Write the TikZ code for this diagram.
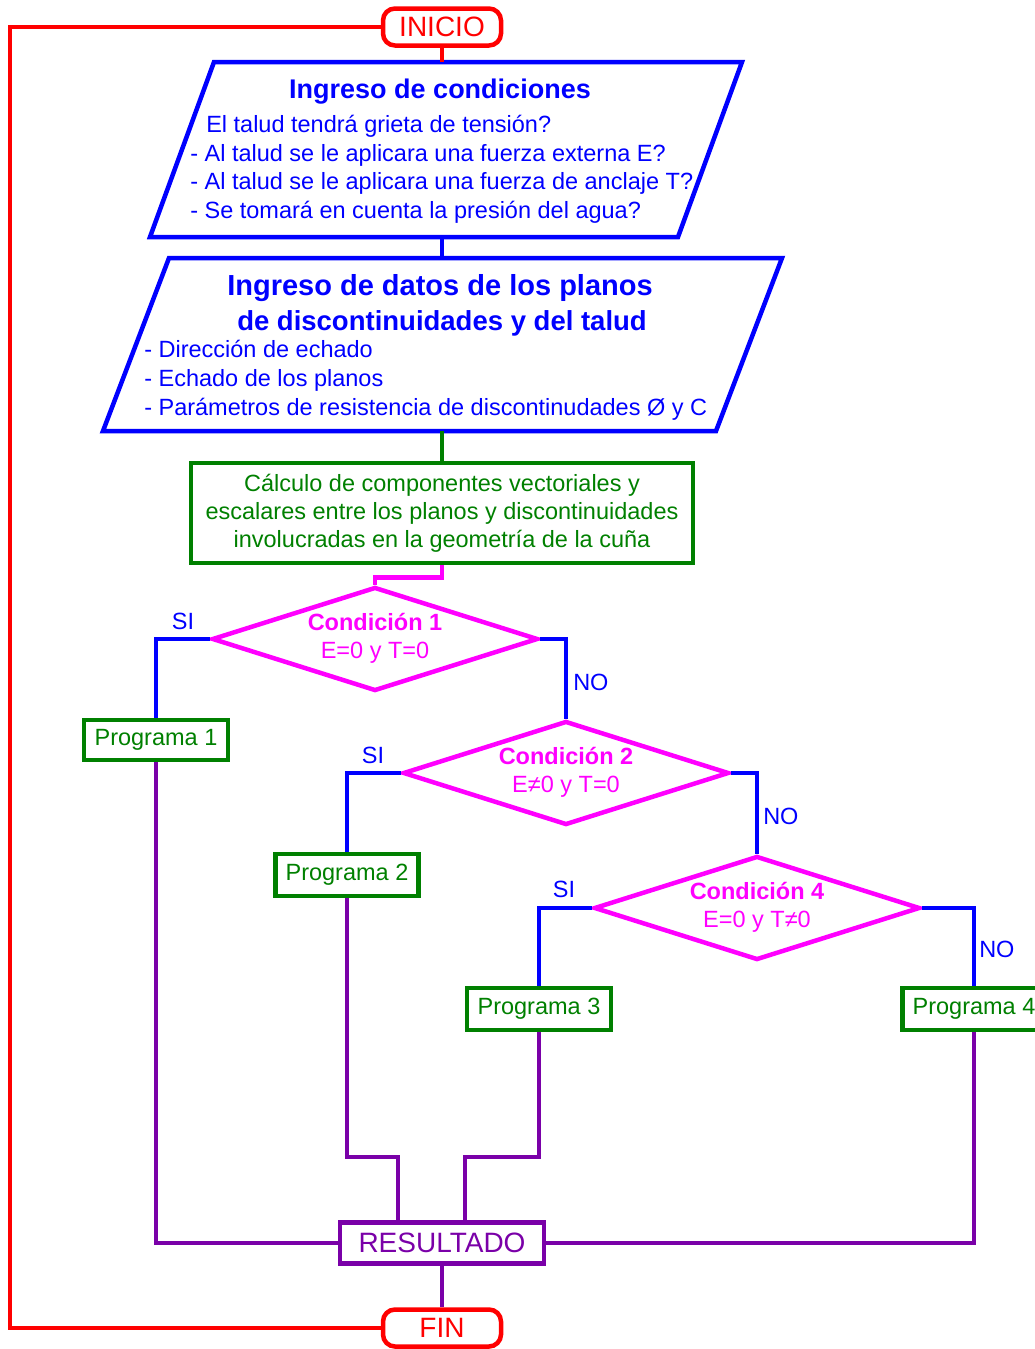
\documentclass[tikz,border=0pt]{standalone}
\usepackage{fontspec}
\setmainfont{Liberation Sans}
\usetikzlibrary{shapes.geometric}
\definecolor{fcred}{RGB}{255,0,0}
\definecolor{fcblue}{RGB}{0,0,255}
\definecolor{fcgreen}{RGB}{0,128,0}
\definecolor{fcmagenta}{RGB}{255,0,255}
\definecolor{fcpurple}{RGB}{122,0,168}
\newcommand{\bodysize}{\fontsize{23.5}{28}\selectfont}
\newcommand{\termsize}{\fontsize{28}{32}\selectfont}
\newcommand{\slantbox}[2]% frame node, slant
{(#1.south west) -- ([xshift=#2]#1.north west) -- (#1.north east) -- ([xshift=-#2]#1.south east) -- cycle
}

\begin{document}
\begin{tikzpicture}[x=1pt,y=-1pt,line width=4.5pt]
\tikzstyle{terminal}=[draw=fcred,text=fcred,font=\termsize,rectangle,rounded corners=12pt,minimum width=118,minimum height=37,inner sep=0pt]
\tikzstyle{frame}=[inner sep=0pt,outer sep=0pt]
\tikzstyle{head}=[text=fcblue,font=\bfseries,anchor=base,inner sep=0pt]
\tikzstyle{item}=[text=fcblue,font=\bodysize,anchor=base west,inner sep=0pt]
\tikzstyle{process}=[draw=fcgreen,text=fcgreen,font=\bodysize,align=center,inner sep=0pt]
\tikzstyle{decision}=[draw=fcmagenta,text=fcmagenta,font=\bodysize,diamond,aspect=3.14,minimum width=326,minimum height=104,inner sep=0pt,align=center]
\tikzstyle{output}=[draw=fcpurple,text=fcpurple,font=\termsize,minimum width=204,minimum height=41,inner sep=0pt]
\tikzstyle{answer}=[text=fcblue,font=\bodysize,inner sep=0pt]

\useasboundingbox (0,0) rectangle (1034,1349);

% start and end
\draw (442,27) node[terminal] (inicio) {INICIO}; % inicio
\draw (442,1328) node[terminal] (fin) {FIN}; % fin
\coordinate (loop) at (10,27);
\draw[fcred] (inicio.west) -- (loop) |- (fin.west);

% first input box
\draw (446,149.5) node[frame,minimum width=592,minimum height=175] (ingreso) {}; % ingreso
\draw[fcblue] \slantbox{ingreso}{64pt};
\draw (440,98) node[head,font=\fontsize{27}{32}\selectfont\bfseries] (ingresot) {Ingreso de condiciones};
\draw (204,132) node[item] (q1) {El talud tendrá grieta de tensión?};
\draw (188,161) node[item] (q2) {- Al talud se le aplicara una fuerza externa E?};
\draw (188,189) node[item] (q3) {- Al talud se le aplicara una fuerza de anclaje T?};
\draw (188,218) node[item] (q4) {- Se tomará en cuenta la presión del agua?};

% second input box
\draw (442.5,344.5) node[frame,minimum width=679,minimum height=173] (datos) {}; % datos
\draw[fcblue] \slantbox{datos}{66pt};
\draw (440,295) node[head,font=\fontsize{29}{32}\selectfont\bfseries] (datost1) {Ingreso de datos de los planos};
\draw (442,330) node[head,font=\fontsize{27.5}{32}\selectfont\bfseries] (datost2) {de discontinuidades y del talud};
\draw (142,357) node[item] (d1) {- Dirección de echado};
\draw (142,386) node[item] (d2) {- Echado de los planos};
\draw (142,415) node[item] (d3) {- Parámetros de resistencia de discontinudades Ø y C};

% calculation
\draw (442,513) node[process,minimum width=502,minimum height=100] (calculo) {Cálculo de componentes vectoriales y\\escalares entre los planos y discontinuidades\\involucradas en la geometría de la cuña}; % calculo

% conditions
\draw (375,639) node[decision] (cond1) {\textbf{Condición 1}\\E=0 y T=0\rule[-6pt]{0pt}{0pt}}; % cond1
\draw (566,773) node[decision] (cond2) {\textbf{Condición 2}\\E≠0 y T=0\rule[-6pt]{0pt}{0pt}}; % cond2
\draw (757,908) node[decision] (cond4) {\textbf{Condición 4}\\E=0 y T≠0\rule[-6pt]{0pt}{0pt}}; % cond4

% programs
\draw (156,740) node[process,minimum width=144,minimum height=40] (prog1) {Programa 1}; % prog1
\draw (347,875) node[process,minimum width=143,minimum height=42] (prog2) {Programa 2}; % prog2
\draw (539,1009) node[process,minimum width=144,minimum height=42] (prog3) {Programa 3}; % prog3
\draw (974,1009) node[process,minimum width=143,minimum height=42] (prog4) {Programa 4}; % prog4
\draw (442,1243) node[output] (result) {RESULTADO}; % result

% answers
\draw (183,621) node[answer] (si1) {SI};
\draw (571,682) node[answer,anchor=west] (no1) {NO};
\draw (373,755) node[answer] (si2) {SI};
\draw (761,816) node[answer,anchor=west] (no2) {NO};
\draw (564,889) node[answer] (si3) {SI};
\draw (977,949) node[answer,anchor=west] (no3) {NO};

% connectors
\draw[fcred] (inicio) -- (inicio |- ingreso.north);
\draw[fcblue] (calculo |- ingreso.south) -- (calculo |- datos.north);
\draw[fcgreen] (calculo |- datos.south) -- (calculo.north);
\draw[fcmagenta] (calculo.south) -- ++(0,12) -| (cond1.north);
\draw[fcblue] (cond1.west) -| (prog1.north);
\draw[fcblue] (cond1.east) -| (cond2.north);
\draw[fcblue] (cond2.west) -| (prog2.north);
\draw[fcblue] (cond2.east) -| (cond4.north);
\draw[fcblue] (cond4.west) -| (prog3.north);
\draw[fcblue] (cond4.east) -| (prog4.north);

\coordinate (join2) at (398,1157);
\coordinate (join3) at (465,1157);
\draw[fcpurple] (prog1.south) |- (result.west);
\draw[fcpurple] (prog4.south) |- (result.east);
\draw[fcpurple] (prog2.south) |- (join2) -- (join2 |- result.north);
\draw[fcpurple] (prog3.south) |- (join3) -- (join3 |- result.north);
\draw[fcpurple] (result) -- (fin);
\end{tikzpicture}
\end{document}
